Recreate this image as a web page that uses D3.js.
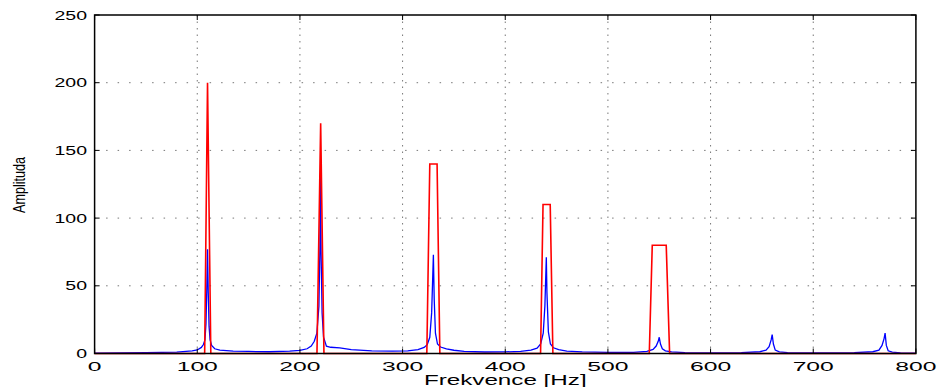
<!DOCTYPE html>
<html>
<head>
  <title>Amplituda spectrum</title>
  <style>
    body { margin: 0; background-color: white; }
    svg { display: block; }
    text { font-family: "Liberation Sans", Arial, sans-serif; fill: black; }
  </style>
</head>
<body>
  <svg width="937" height="387"></svg>

  <script src="https://d3js.org/d3.v7.min.js"></script>
  <script>
    // frequency [Hz] and amplitude of the red trace (ideal spectrum)
    const redFreq = [0, 107.2, 110, 113.2, 216.6, 220.2, 223.4, 323.6, 326.5, 333.6, 336.3,
      434.4, 436.8, 443.8, 446.4, 540.3, 543.2, 556.8, 560.1, 800];
    const redAmp = [0, 0, 200, 0, 0, 170, 0, 0, 140, 140, 0,
      0, 110, 110, 0, 0, 80, 80, 0, 0];

    // frequency [Hz] and amplitude of the blue trace (measured spectrum)
    const blueFreq = [0, 50, 80, 95, 100, 104, 106, 107.5, 108.5, 109.3, 110, 110.7, 111.5, 112.5, 114, 117, 122, 135, 150, 170,
      190, 200, 207, 211, 214, 216.5, 218.5, 219.5, 220, 220.6, 221.6, 223, 225.8, 230, 238.8, 250, 270, 290,
      305, 315, 321, 324, 326.5, 328.3, 329.3, 330, 330.8, 332, 334, 337, 342.7, 350, 360, 380, 400,
      415, 425, 431, 434.5, 437, 438.6, 439.5, 440, 440.6, 442, 444, 447, 452, 460, 475, 500,
      525, 538, 544, 547, 549, 550, 551.2, 553, 556, 562, 575, 600,
      630, 648, 654, 657, 659, 660, 661.2, 663, 667, 675, 700,
      740, 758, 764, 767, 769, 770, 771.2, 773, 777, 785, 800];
    const blueAmp = [0.3, 0.6, 1.0, 2.0, 2.6, 4.5, 6.6, 10, 22, 48, 77, 45, 20, 10, 6, 3.5, 2.5, 1.8, 1.5, 1.3,
      1.7, 2.3, 3.5, 5.5, 9, 15, 35, 80, 133, 75, 30, 12, 5.4, 4.6, 4.2, 2.8, 2.0, 1.7,
      2.0, 2.8, 4.5, 6.5, 12, 30, 55, 73, 40, 15, 7, 4.8, 3.4, 2.4, 1.5, 1.1, 1.2,
      1.6, 2.5, 4.0, 7, 15, 35, 58, 71, 45, 16, 7, 4.2, 2.8, 1.8, 1.2, 0.8,
      0.9, 1.6, 3.0, 5.5, 9, 12, 7, 3.5, 2.0, 1.2, 0.7, 0.5,
      0.6, 1.3, 2.5, 5, 10, 14, 7, 2.5, 1.2, 0.7, 0.4,
      0.6, 1.3, 2.5, 6, 11, 15, 6, 2, 1.0, 0.5, 0.3];

    const xTicks = [0, 100, 200, 300, 400, 500, 600, 700, 800];
    const yTicks = [0, 50, 100, 150, 200, 250];

    const svg = d3.select("svg");
    const pLeft = 94.6, pRight = 915.9, pTop = 15, pBottom = 353.5;

    const x = d3.scaleLinear().domain([0, 800]).range([pLeft, pRight]);
    const y = d3.scaleLinear().domain([0, 250]).range([pBottom, pTop]);

    // grid
    svg.append("g").selectAll("line")
      .data(xTicks.filter(d => d > 0 && d < 800))
      .join("line")
      .attr("x1", d => x(d)).attr("x2", d => x(d))
      .attr("y1", pTop).attr("y2", pBottom)
      .attr("stroke", "#777").attr("stroke-width", 1)
      .attr("stroke-dasharray", "1.5,5");
    svg.append("g").selectAll("line")
      .data(yTicks.filter(d => d > 0 && d < 250))
      .join("line")
      .attr("x1", pLeft).attr("x2", pRight)
      .attr("y1", d => y(d)).attr("y2", d => y(d))
      .attr("stroke", "#777").attr("stroke-width", 1)
      .attr("stroke-dasharray", "1.5,10");

    const line = d3.line().x(d => x(d[0])).y(d => y(d[1]));

    svg.append("path")
      .datum(blueFreq.map((f, i) => [f, blueAmp[i]]))
      .attr("d", line)
      .attr("fill", "none")
      .attr("stroke", "#0000ff")
      .attr("stroke-width", 1.3);

    svg.append("path")
      .datum(redFreq.map((f, i) => [f, redAmp[i]]))
      .attr("d", line)
      .attr("fill", "none")
      .attr("stroke", "#ff0000")
      .attr("stroke-width", 1.6);

    // box and inward ticks
    svg.append("rect")
      .attr("x", pLeft).attr("y", pTop)
      .attr("width", pRight - pLeft).attr("height", pBottom - pTop)
      .attr("fill", "none").attr("stroke", "black").attr("stroke-width", 1.5);

    const tk = svg.append("g").attr("stroke", "black").attr("stroke-width", 1);
    xTicks.forEach(d => {
      tk.append("line").attr("x1", x(d)).attr("x2", x(d)).attr("y1", pBottom).attr("y2", pBottom - 5);
      tk.append("line").attr("x1", x(d)).attr("x2", x(d)).attr("y1", pTop).attr("y2", pTop + 5);
    });
    yTicks.forEach(d => {
      tk.append("line").attr("x1", pLeft).attr("x2", pLeft + 5).attr("y1", y(d)).attr("y2", y(d));
      tk.append("line").attr("x1", pRight).attr("x2", pRight - 5).attr("y1", y(d)).attr("y2", y(d));
    });

    // tick labels (stretched horizontally like the original figure)
    svg.append("g").selectAll("text")
      .data(xTicks)
      .join("text")
      .attr("transform", d => `translate(${x(d)},371) scale(1.9,1)`)
      .attr("text-anchor", "middle")
      .attr("font-size", 13)
      .text(d => d);

    svg.append("g").selectAll("text")
      .data(yTicks)
      .join("text")
      .attr("transform", d => `translate(87,${y(d) + 4.5}) scale(1.5,1)`)
      .attr("text-anchor", "end")
      .attr("font-size", 13)
      .text(d => d);

    svg.append("text")
      .attr("transform", `translate(${(pLeft + pRight) / 2},385) scale(1.73,1)`)
      .attr("text-anchor", "middle")
      .attr("font-size", 14)
      .text("Frekvence [Hz]");

    svg.append("text")
      .attr("transform", "translate(25,185) scale(1.35,1) rotate(-90)")
      .attr("text-anchor", "middle")
      .attr("font-size", 12.6)
      .text("Amplituda");
  </script>
</body>
</html>
